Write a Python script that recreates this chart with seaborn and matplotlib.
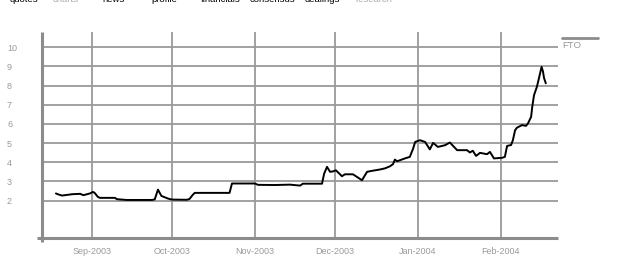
import matplotlib
matplotlib.use("Agg")
import matplotlib.pyplot as plt
import matplotlib.dates as mdates
import seaborn as sns
import pandas as pd

# ---- data ----
dates = [
    "2003-08-18 12:00", "2003-08-19 14:00", "2003-08-20 19:00", "2003-08-23 00:00",
    "2003-08-24 14:00", "2003-08-27 14:00", "2003-08-28 19:00", "2003-08-31 06:00",
    "2003-09-01 09:00", "2003-09-02 00:00", "2003-09-03 05:00", "2003-09-04 00:00",
    "2003-09-09 14:00", "2003-09-10 09:00", "2003-09-14 00:00", "2003-09-23 12:00",
    "2003-09-24 12:00", "2003-09-25 17:00", "2003-09-27 00:00", "2003-09-29 12:00",
    "2003-10-01 00:00", "2003-10-06 12:00", "2003-10-07 12:00", "2003-10-08 18:00",
    "2003-10-09 12:00", "2003-10-22 12:00", "2003-10-23 10:00", "2003-11-01 00:00",
    "2003-11-02 03:00", "2003-11-08 12:00", "2003-11-14 03:00", "2003-11-17 22:00",
    "2003-11-18 23:00", "2003-11-26 03:00", "2003-11-26 22:00", "2003-11-28 00:00",
    "2003-11-29 03:00", "2003-11-30 05:00", "2003-12-01 08:00", "2003-12-03 14:00",
    "2003-12-04 17:00", "2003-12-07 17:00", "2003-12-09 14:00", "2003-12-11 02:00",
    "2003-12-13 00:00", "2003-12-14 19:00", "2003-12-17 19:00", "2003-12-19 17:00",
    "2003-12-21 14:00", "2003-12-22 17:00", "2003-12-23 10:00", "2003-12-24 05:00",
    "2003-12-27 05:00", "2003-12-29 00:00", "2003-12-30 05:00", "2003-12-31 00:00",
    "2004-01-01 19:00", "2004-01-03 17:00", "2004-01-05 12:00", "2004-01-06 17:00",
    "2004-01-08 12:00", "2004-01-11 05:00", "2004-01-13 00:00", "2004-01-15 17:00",
    "2004-01-19 10:00", "2004-01-20 12:00", "2004-01-21 14:00", "2004-01-22 19:00",
    "2004-01-24 07:00", "2004-01-26 22:00", "2004-01-28 00:00", "2004-01-29 12:00",
    "2004-02-01 12:00", "2004-02-02 14:00", "2004-02-03 10:00", "2004-02-04 22:00",
    "2004-02-05 14:00", "2004-02-06 10:00", "2004-02-07 02:00", "2004-02-09 00:00",
    "2004-02-10 12:00", "2004-02-11 06:00", "2004-02-12 10:00", "2004-02-12 20:00",
    "2004-02-13 12:00", "2004-02-14 14:00", "2004-02-15 08:00", "2004-02-16 08:00",
    "2004-02-16 20:00", "2004-02-17 06:00", "2004-02-17 22:00",
]
prices = [
    2.37, 2.31, 2.26, 2.30,
    2.33, 2.35, 2.28, 2.37,
    2.45, 2.40, 2.19, 2.14,
    2.14, 2.07, 2.03, 2.03,
    2.06, 2.57, 2.24, 2.10,
    2.05, 2.04, 2.08, 2.30,
    2.40, 2.40, 2.89, 2.89,
    2.82, 2.81, 2.83, 2.78,
    2.88, 2.88, 3.40, 3.76,
    3.50, 3.52, 3.58, 3.27,
    3.37, 3.37, 3.20, 3.06,
    3.50, 3.55, 3.62, 3.68,
    3.79, 3.90, 4.14, 4.05,
    4.20, 4.28, 4.70, 5.06,
    5.15, 5.06, 4.67, 5.01,
    4.80, 4.89, 5.03, 4.63,
    4.63, 4.51, 4.60, 4.33,
    4.49, 4.42, 4.54, 4.20,
    4.23, 4.28, 4.85, 4.90,
    5.15, 5.67, 5.80, 5.94,
    5.90, 6.03, 6.37, 6.89,
    7.50, 7.94, 8.38, 8.98,
    8.75, 8.40, 8.12,
]
ytick_values = [2, 3, 4, 5, 6, 7, 8, 9, 10]
ticker_name = "FTO"
nav_items = ["quotes", "charts", "news", "profile", "financials", "consensus", "dealings", "research"]
nav_active = [True, False, True, True, True, True, True, False]

df = pd.DataFrame({"date": pd.to_datetime(dates), "price": prices})

# ---- style ----
sns.set_style("white")
plt.rcParams["font.family"] = ["Liberation Sans", "DejaVu Sans"]
GRID = "#9a9a9a"
SPINE = "#8c8c8c"
TXT = "#9a9a9a"

W, H = 629, 259
fig = plt.figure(figsize=(W / 100, H / 100), dpi=100)
ax_l, ax_r, ax_t, ax_b = 42, 557.5, 32, 237.5
ax = fig.add_axes([ax_l / W, 1 - ax_b / H, (ax_r - ax_l) / W, (ax_b - ax_t) / H])

sns.lineplot(data=df, x="date", y="price", ax=ax, color="black", lw=1.4,
             estimator=None, sort=False, zorder=5)

ax.set_xlim(pd.Timestamp("2003-08-13 07:00"), pd.Timestamp("2004-02-22 07:00"))
ax.set_ylim(0.07, 10.8)

ax.set_yticks(ytick_values)
ax.xaxis.set_major_locator(mdates.MonthLocator())
ax.xaxis.set_major_formatter(mdates.DateFormatter("%b-%Y"))

ax.grid(True, color=GRID, lw=1.3)
ax.set_axisbelow(True)
for s in ax.spines.values():
    s.set_visible(False)

ax.tick_params(axis="y", length=0, pad=25.2, labelsize=6.5, labelcolor=TXT)
for lab in ax.get_yticklabels():
    lab.set_horizontalalignment("left")
ax.tick_params(axis="x", length=2.5, width=1.3, color=GRID, pad=4.5,
               labelsize=6.5, labelcolor=TXT)
ax.set_xlabel("")
ax.set_ylabel("")

# custom spines (left extends below, bottom extends left)
aw, ah = ax_r - ax_l, ax_b - ax_t
ax.plot([0, 0], [-(242 - ax_b) / ah, 1], transform=ax.transAxes, color=SPINE,
        lw=2.2, clip_on=False, solid_capstyle="butt", zorder=6)
ax.plot([-(ax_l - 37) / aw, 1], [0, 0], transform=ax.transAxes, color=SPINE,
        lw=2.2, clip_on=False, solid_capstyle="butt", zorder=6)

# legend-like label
fig.add_artist(plt.Line2D([562 / W, 598 / W], [1 - 38 / H, 1 - 38 / H], color=SPINE, lw=2.0))
fig.text(562 / W, 1 - 48.5 / H, ticker_name, fontsize=6.8, color=TXT, ha="left", va="baseline")

# top navigation text (cut off at top edge)
nav_x = [10, 53, 102, 151, 201, 250, 305, 355]
for x, name, active in zip(nav_x, nav_items, nav_active):
    fig.text(x / W, 1 - 2.5 / H, name, fontsize=6.8, color="black" if active else "#aaaaaa",
             ha="left", va="baseline")

fig.savefig("out.png", dpi=100)
